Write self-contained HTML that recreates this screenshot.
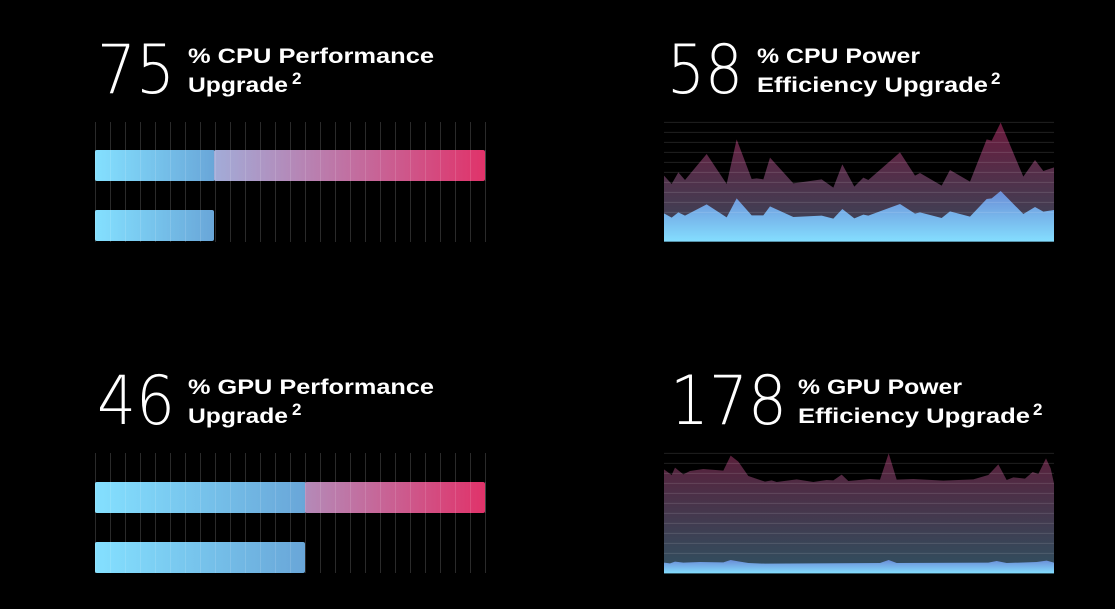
<!DOCTYPE html>
<html><head><style>
html,body{margin:0;padding:0;background:#000;width:1115px;height:609px;overflow:hidden}
svg{position:absolute;left:0;top:0}
text{font-family:"Liberation Sans",sans-serif;fill:#fff}
.big{font-family:"DejaVu Sans ExtraLight","DejaVu Sans","Liberation Sans",sans-serif;font-size:68px;font-weight:200}
.lab{font-size:21px;font-weight:bold}
.sup{font-size:17px;font-weight:bold}
</style></head><body>
<svg width="1115" height="609" viewBox="0 0 1115 609">
<defs>
<linearGradient id="blue" x1="0" x2="1" y1="0" y2="0"><stop offset="0" stop-color="#84e0ff"/><stop offset="1" stop-color="#69a6d8"/></linearGradient>
<linearGradient id="pink" x1="0" x2="1" y1="0" y2="0"><stop offset="0" stop-color="#a2acd8"/><stop offset="1" stop-color="#e0336a"/></linearGradient>
<linearGradient id="pink2" x1="0" x2="1" y1="0" y2="0"><stop offset="0" stop-color="#b48ab8"/><stop offset="1" stop-color="#e0336a"/></linearGradient>
<linearGradient id="upA" x1="0" x2="0" y1="0" y2="1"><stop offset="0" stop-color="#6a1a3c"/><stop offset="1" stop-color="#35495a"/></linearGradient>
<linearGradient id="upB" x1="0" x2="0" y1="0" y2="1"><stop offset="0" stop-color="#5a1f3a"/><stop offset="1" stop-color="#2f5060"/></linearGradient>
<linearGradient id="lo" x1="0" x2="0" y1="0" y2="1"><stop offset="0" stop-color="#6a8cd6"/><stop offset="1" stop-color="#84deff"/></linearGradient>
<pattern id="vg" x="95" y="0" width="15" height="10" patternUnits="userSpaceOnUse"><rect x="0" y="0" width="1" height="10" fill="#2a2a2a"/></pattern>
<pattern id="vg2" x="95" y="0" width="15" height="10" patternUnits="userSpaceOnUse"><rect x="0" y="0" width="1" height="10" fill="#fff" fill-opacity="0.12"/></pattern>
</defs>

<text class="big" x="97" y="93" textLength="78" lengthAdjust="spacingAndGlyphs">75</text>
<text class="lab" x="188" y="63" textLength="246" lengthAdjust="spacingAndGlyphs">% CPU Performance</text>
<text class="lab" x="188" y="92" textLength="100" lengthAdjust="spacingAndGlyphs">Upgrade</text>
<text class="sup" x="292" y="84">2</text>

<text class="big" x="667" y="93" textLength="76" lengthAdjust="spacingAndGlyphs">58</text>
<text class="lab" x="757" y="63" textLength="163" lengthAdjust="spacingAndGlyphs">% CPU Power</text>
<text class="lab" x="757" y="92" textLength="231" lengthAdjust="spacingAndGlyphs">Efficiency Upgrade</text>
<text class="sup" x="991" y="84">2</text>

<text class="big" x="97" y="424" textLength="78" lengthAdjust="spacingAndGlyphs">46</text>
<text class="lab" x="188" y="394" textLength="246" lengthAdjust="spacingAndGlyphs">% GPU Performance</text>
<text class="lab" x="188" y="423" textLength="100" lengthAdjust="spacingAndGlyphs">Upgrade</text>
<text class="sup" x="292" y="415">2</text>

<text class="big" x="670" y="424" textLength="117" lengthAdjust="spacingAndGlyphs">178</text>
<text class="lab" x="798" y="394" textLength="164" lengthAdjust="spacingAndGlyphs">% GPU Power</text>
<text class="lab" x="798" y="423" textLength="232" lengthAdjust="spacingAndGlyphs">Efficiency Upgrade</text>
<text class="sup" x="1033" y="415">2</text>

<rect x="95" y="122" width="391" height="120" fill="url(#vg)"/>
<rect x="95" y="150" width="120" height="31" rx="2" fill="url(#blue)"/>
<rect x="214" y="150" width="271" height="31" rx="2" fill="url(#pink)"/>
<rect x="95" y="210" width="119" height="31" rx="2" fill="url(#blue)"/>
<rect x="95" y="150" width="391" height="31" fill="url(#vg2)"/>
<rect x="95" y="210" width="119" height="31" fill="url(#vg2)"/>

<rect x="95" y="453" width="391" height="120" fill="url(#vg)"/>
<rect x="95" y="482" width="211" height="31" rx="2" fill="url(#blue)"/>
<rect x="305" y="482" width="180" height="31" rx="2" fill="url(#pink2)"/>
<rect x="95" y="542" width="210" height="31" rx="2" fill="url(#blue)"/>
<rect x="95" y="482" width="391" height="31" fill="url(#vg2)"/>
<rect x="95" y="542" width="210" height="31" fill="url(#vg2)"/>
</svg>

<svg style="left:660px;top:110px" width="400" height="140" viewBox="0 0 1200 420" preserveAspectRatio="none">
<polygon fill="url(#upA)" points="12,395 12,197 35,222 55,187 75,210 140,132 200,222 230,88 275,207 290,205 310,208 330,143 400,220 485,208 520,233 547,163 583,230 610,203 625,210 720,127 765,197 780,189 845,227 870,180 930,215 980,88 995,92 1022,38 1090,200 1125,150 1150,183 1182,172 1182,395"/>
<polygon fill="url(#lo)" points="12,395 12,310 35,323 55,307 75,317 140,283 200,322 230,265 275,316 310,316 330,289 400,321 485,317 520,326 547,297 583,325 610,314 625,317 720,282 765,311 780,307 845,324 870,304 930,320 980,267 995,265 1022,243 1090,312 1125,291 1150,305 1182,300 1182,395"/>
<g stroke="#fff" stroke-opacity="0.13" stroke-width="3">
<line x1="12" x2="1182" y1="37" y2="37"/><line x1="12" x2="1182" y1="67" y2="67"/><line x1="12" x2="1182" y1="97" y2="97"/><line x1="12" x2="1182" y1="127" y2="127"/><line x1="12" x2="1182" y1="157" y2="157"/><line x1="12" x2="1182" y1="187" y2="187"/><line x1="12" x2="1182" y1="217" y2="217"/><line x1="12" x2="1182" y1="247" y2="247"/><line x1="12" x2="1182" y1="277" y2="277"/><line x1="12" x2="1182" y1="307" y2="307"/>
</g>
</svg>

<svg style="left:660px;top:450px" width="400" height="130" viewBox="0 0 1200 390" preserveAspectRatio="none">
<polygon fill="url(#upB)" points="12,370 12,58 35,75 45,53 70,73 90,63 130,57 190,62 212,17 235,35 265,78 315,95 335,91 350,96 410,88 460,96 500,90 520,91 545,74 565,93 630,87 660,89 686,10 710,89 760,87 850,92 940,88 985,75 1015,43 1040,90 1060,82 1095,86 1118,66 1135,72 1158,25 1172,55 1182,100 1182,370"/>
<polygon fill="url(#lo)" points="12,370 12,338 30,340 45,335 70,338 120,336 190,337 212,330 235,334 265,339 315,341 660,339 686,330 710,339 985,338 1010,333 1040,339 1130,336 1160,332 1182,338 1182,370"/>
<g stroke="#fff" stroke-opacity="0.12" stroke-width="3">
<line x1="12" x2="1182" y1="10" y2="10"/><line x1="12" x2="1182" y1="40" y2="40"/><line x1="12" x2="1182" y1="70" y2="70"/><line x1="12" x2="1182" y1="100" y2="100"/><line x1="12" x2="1182" y1="130" y2="130"/><line x1="12" x2="1182" y1="160" y2="160"/><line x1="12" x2="1182" y1="190" y2="190"/><line x1="12" x2="1182" y1="220" y2="220"/><line x1="12" x2="1182" y1="250" y2="250"/><line x1="12" x2="1182" y1="280" y2="280"/><line x1="12" x2="1182" y1="310" y2="310"/>
</g>
</svg>
</body></html>
